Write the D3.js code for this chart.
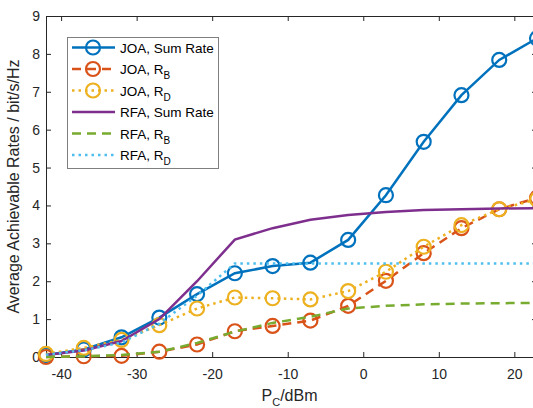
<!DOCTYPE html>
<html>
<head>
<meta charset="utf-8">
<script src="https://cdn.jsdelivr.net/npm/d3@7"></script>
<style>
  body { margin: 0; background: #fff; }
  svg { font-family: "Liberation Sans", Arial, sans-serif; display: block; }
</style>
</head>
<body>
<svg id="chart" width="533" height="408"></svg>
<script>
'use strict';

// transmit power of C, dBm
var pc = [-42, -37, -32, -27, -22, -17, -12, -7, -2, 3, 8, 13, 18, 23];

var joaSum = [0.05, 0.2, 0.52, 1.04, 1.66, 2.21, 2.4, 2.49, 3.09, 4.27, 5.68, 6.91, 7.84, 8.41];
var joaRB  = [0.0, 0.02, 0.03, 0.14, 0.33, 0.68, 0.82, 0.96, 1.35, 2.01, 2.74, 3.4, 3.9, 4.2];
var joaRD  = [0.08, 0.24, 0.45, 0.84, 1.28, 1.57, 1.55, 1.52, 1.74, 2.25, 2.91, 3.48, 3.9, 4.16];
var rfaSum = [0.05, 0.17, 0.42, 1.0, 2.0, 3.1, 3.4, 3.62, 3.75, 3.83, 3.88, 3.9, 3.92, 3.93];
var rfaRB  = [0.0, 0.02, 0.05, 0.14, 0.37, 0.67, 0.9, 1.06, 1.28, 1.35, 1.39, 1.41, 1.42, 1.43];
var rfaRD  = [0.06, 0.18, 0.38, 0.88, 1.62, 2.47, 2.47, 2.47, 2.47, 2.47, 2.47, 2.47, 2.47, 2.47];

var xTicks = [-40, -30, -20, -10, 0, 10, 20];
var yTicks = [0, 1, 2, 3, 4, 5, 6, 7, 8, 9];

var series = [
    {name: "JOA, ", main: "Sum Rate", sub: "", values: joaSum, color: "#0072BD", dash: null, marker: true},
    {name: "JOA, ", main: "R", sub: "B", values: joaRB, color: "#D95319", dash: "9,6", marker: true},
    {name: "JOA, ", main: "R", sub: "D", values: joaRD, color: "#EDB120", dash: "2.5,4", marker: true},
    {name: "RFA, ", main: "Sum Rate", sub: "", values: rfaSum, color: "#7E2F8E", dash: null, marker: false},
    {name: "RFA, ", main: "R", sub: "B", values: rfaRB, color: "#77AC30", dash: "9,6", marker: false},
    {name: "RFA, ", main: "R", sub: "D", values: rfaRD, color: "#4DBEEE", dash: "2.5,4", marker: false}
];

var margin = {top: 16, left: 46},
    width = 491,
    height = 341;

var svg = d3.select("#chart");
var axisColor = "#262626";
var plain = function (d) { return String(d); };

var x = d3.scaleLinear().domain([-42, 23]).range([0, width]);
var y = d3.scaleLinear().domain([0, 9]).range([height, 0]);

var g = svg.append("g")
    .attr("transform", "translate(" + margin.left + "," + margin.top + ")");

// axes, MATLAB style: ticks inside, box all round
var axBottom = g.append("g")
    .attr("transform", "translate(0," + height + ")")
    .call(d3.axisBottom(x).tickValues(xTicks).tickFormat(plain).tickSizeInner(-5).tickSizeOuter(0).tickPadding(12));
var axTop = g.append("g")
    .call(d3.axisTop(x).tickValues(xTicks).tickSizeInner(-5).tickSizeOuter(0).tickFormat(""));
var axLeft = g.append("g")
    .call(d3.axisLeft(y).tickValues(yTicks).tickFormat(plain).tickSizeInner(-5).tickSizeOuter(0).tickPadding(6));
var axRight = g.append("g")
    .attr("transform", "translate(" + width + ",0)")
    .call(d3.axisRight(y).tickValues(yTicks).tickSizeInner(-5).tickSizeOuter(0).tickFormat(""));

[axBottom, axTop, axLeft, axRight].forEach(function (a) {
    a.attr("font-size", null).attr("font-family", null);
    a.select(".domain").attr("stroke", axisColor).attr("stroke-width", 1);
    a.selectAll(".tick line").attr("stroke", axisColor);
    a.selectAll(".tick text").attr("fill", axisColor)
        .style("font-size", "14px");
});

var line = d3.line()
    .x(function (d, i) { return x(pc[i]); })
    .y(function (d) { return y(d); });

series.forEach(function (s) {
    g.append("path")
        .datum(s.values)
        .attr("fill", "none")
        .attr("stroke", s.color)
        .attr("stroke-width", 2.5)
        .attr("stroke-dasharray", s.dash)
        .attr("d", line);
    if (s.marker) {
        g.selectAll(null)
            .data(s.values)
            .enter().append("circle")
            .attr("cx", function (d, i) { return x(pc[i]); })
            .attr("cy", function (d) { return y(d); })
            .attr("r", 7)
            .attr("fill", "none")
            .attr("stroke", s.color)
            .attr("stroke-width", 2.2);
    }
});

// axis labels
svg.append("text")
    .attr("transform", "translate(19," + (margin.top + height / 2) + ") rotate(-90)")
    .attr("text-anchor", "middle")
    .attr("fill", axisColor)
    .style("font-size", "16px")
    .text("Average Achievable Rates / bit/s/Hz");

var xl = svg.append("text")
    .attr("x", margin.left + width / 2 - 2)
    .attr("y", 401)
    .attr("text-anchor", "middle")
    .attr("fill", axisColor)
    .style("font-size", "16px");
xl.append("tspan").text("P");
xl.append("tspan").attr("dy", 5).style("font-size", "11px").text("C");
xl.append("tspan").attr("dy", -5).text("/dBm");

// legend
var lg = svg.append("g");
lg.append("rect")
    .attr("x", 67.5).attr("y", 37.5)
    .attr("width", 151).attr("height", 131)
    .attr("fill", "#fff")
    .attr("stroke", "#7f7f7f")
    .attr("stroke-width", 1);

series.forEach(function (s, i) {
    var cy = 47.5 + i * 21.5;
    lg.append("line")
        .attr("x1", 72).attr("x2", 115)
        .attr("y1", cy).attr("y2", cy)
        .attr("stroke", s.color)
        .attr("stroke-width", 2.5)
        .attr("stroke-dasharray", s.dash);
    if (s.marker) {
        lg.append("circle")
            .attr("cx", 93).attr("cy", cy).attr("r", 7)
            .attr("fill", "none")
            .attr("stroke", s.color)
            .attr("stroke-width", 2.2);
    }
    var t = lg.append("text")
        .attr("x", 120).attr("y", cy + 5)
        .attr("fill", "#000")
        .style("font-size", "13.5px");
    t.append("tspan").text(s.name + s.main);
    if (s.sub) {
        t.append("tspan").attr("dy", 5).style("font-size", "10px").text(s.sub);
    }
});
</script>
</body>
</html>
